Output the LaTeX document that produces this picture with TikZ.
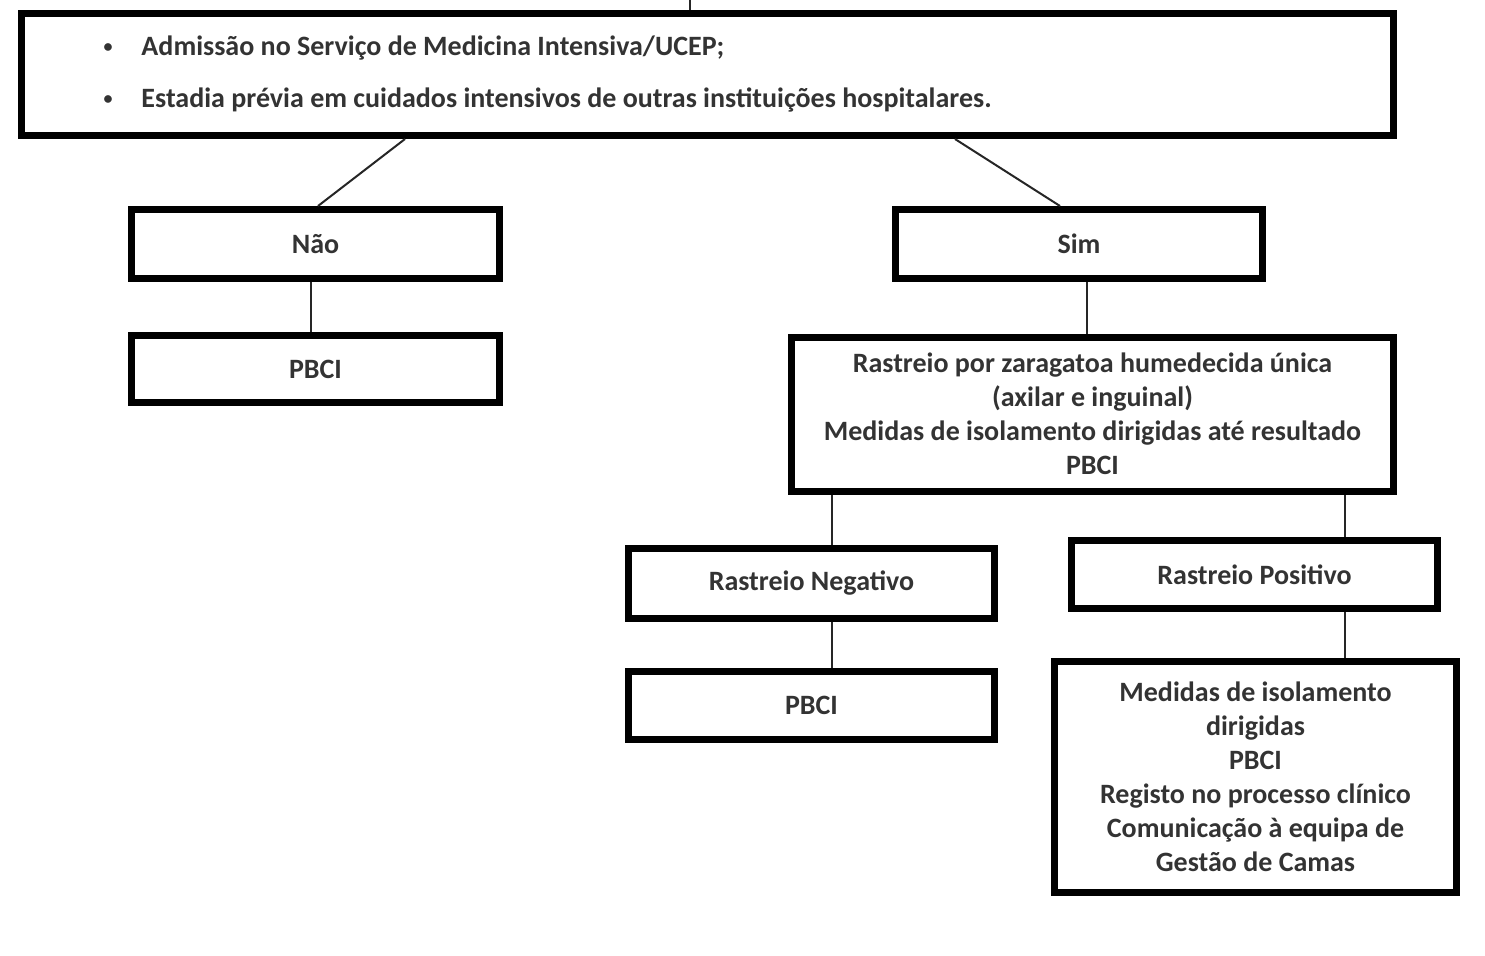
\documentclass[tikz,border=0pt]{standalone}
\usepackage{fontspec}
\setmainfont{Carlito}
\usepackage{tikz}
\usetikzlibrary{positioning, calc}

\newcommand{\bulletmark}{\makebox[23pt][l]{\hspace{4pt}\raisebox{1.5pt}{\fontsize{9}{9}\selectfont\textbullet}}}

\begin{document}
\begin{tikzpicture}[
    x=0.5pt, y=-0.5pt,
    box/.style={
        rectangle, draw=black, line width=3.5pt, inner sep=0pt,
        font=\fontsize{14}{17}\selectfont\bfseries, text=black!80,
        align=center
    },
    link/.style={draw=black!85, line width=1pt},
]
\useasboundingbox (0,0) rectangle (1485,955);

% Nodes
\node[box, minimum width=686pt, minimum height=61pt, align=flush left,
      text width=612pt, inner xsep=37pt] (top) at (707.5, 74.5)
    {\bulletmark Admissão no Serviço de Medicina Intensiva/UCEP;\\[9pt]
     \bulletmark Estadia prévia em cuidados intensivos de outras instituições hospitalares.};
\coordinate (entry) at (690, 0);

\node[box, minimum width=184pt, minimum height=34.5pt] (nao) at (315.5, 244) {Não};
\node[box, minimum width=184pt, minimum height=33.5pt] (pbcinao) at (315.5, 369) {PBCI};

\node[box, minimum width=183.5pt, minimum height=34.5pt] (sim) at (1079, 244) {Sim};
\node[box, minimum width=301pt, minimum height=77pt] (rastreio) at (1092.5, 414)
    {Rastreio por zaragatoa humedecida única\\
     (axilar e inguinal)\\
     Medidas de isolamento dirigidas até resultado\\
     PBCI};

\node[box, minimum width=183pt, minimum height=35pt] (neg) at (811.5, 583.5) {Rastreio Negativo};
\node[box, minimum width=183pt, minimum height=34pt] (pbcineg) at (811.5, 705.5) {PBCI};

\node[box, minimum width=183pt, minimum height=34pt] (pos) at (1254.5, 574.5) {Rastreio Positivo};
\node[box, minimum width=201pt, minimum height=115.5pt] (medidas) at (1255.5, 777)
    {Medidas de isolamento\\
     dirigidas\\
     PBCI\\
     Registo no processo clínico\\
     Comunicação à equipa de\\
     Gestão de Camas};

% Edges
\draw[link] (entry) -- (entry |- top.north);

\draw[link] ($(top.south)+(-302.5,0)$) -- ($(nao.north)+(2.5,0)$);
\draw[link] ($(top.south)+(247.5,0)$) -- ($(sim.north)+(-19,0)$);

\coordinate (naodown) at ($(nao.south)+(-4.5,0)$);
\draw[link] (naodown) -- (naodown |- pbcinao.north);

\coordinate (simdown) at ($(sim.south)+(8,0)$);
\draw[link] (simdown) -- (simdown |- rastreio.north);

\coordinate (negup) at ($(neg.north)+(20.5,0)$);
\draw[link] (negup) -- (negup |- rastreio.south);
\draw[link] (negup |- neg.south) -- (negup |- pbcineg.north);

\coordinate (posup) at ($(pos.north)+(90.5,0)$);
\draw[link] (posup) -- (posup |- rastreio.south);
\draw[link] (posup |- pos.south) -- (posup |- medidas.north);

\end{tikzpicture}
\end{document}
